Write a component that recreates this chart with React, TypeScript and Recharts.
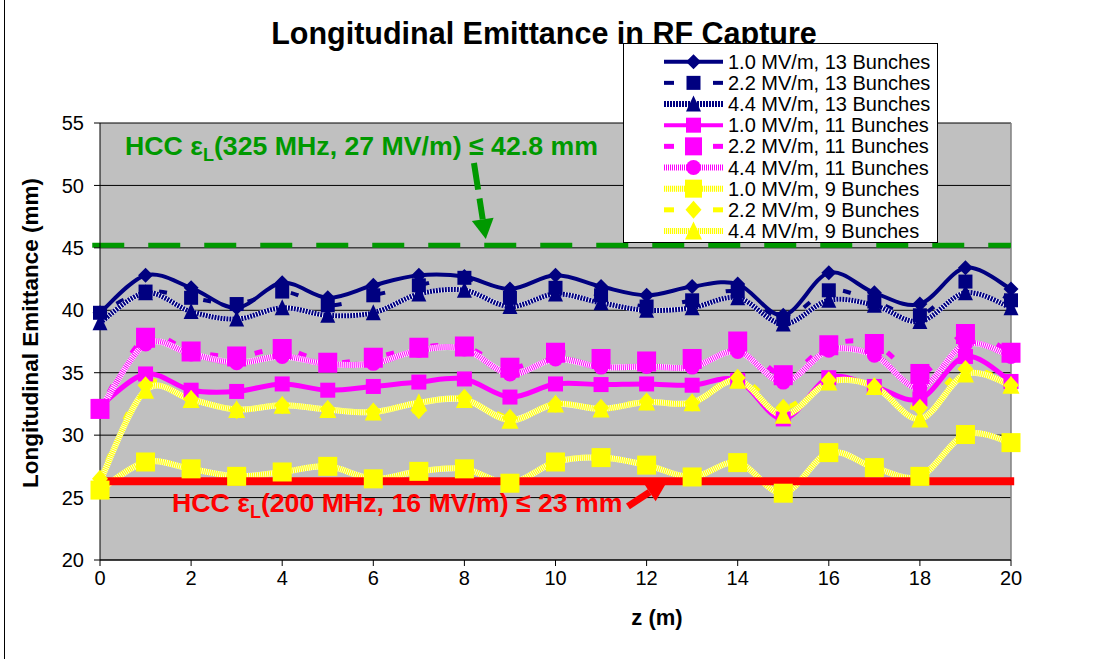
import React from 'react';
import { LineChart, Line, XAxis, YAxis, CartesianGrid, ReferenceLine, ReferenceDot } from 'recharts';

// ---------- data ----------
const zPositions = [0, 1, 2, 3, 4, 5, 6, 7, 8, 9, 10, 11, 12, 13, 14, 15, 16, 17, 18, 19, 20];
const xTicks = [0, 2, 4, 6, 8, 10, 12, 14, 16, 18, 20];
const yTicks = [20, 25, 30, 35, 40, 45, 50, 55];

const emit13_10 = [39.8, 42.8, 41.8, 40.2, 42.2, 41.0, 42.0, 42.8, 42.7, 41.7, 42.8, 41.9, 41.2, 41.9, 42.1, 39.6, 43.0, 41.4, 40.5, 43.4, 41.7];
const emit13_22 = [39.8, 41.5, 41.0, 40.5, 41.5, 40.4, 41.2, 42.0, 42.6, 41.0, 41.8, 41.2, 40.3, 40.8, 41.5, 39.3, 41.6, 40.7, 39.6, 42.3, 40.8];
const emit13_44 = [39.0, 41.4, 39.9, 39.3, 40.2, 39.6, 39.8, 41.3, 41.6, 40.3, 41.3, 40.6, 40.0, 40.2, 41.0, 38.9, 40.8, 40.4, 39.1, 41.4, 40.2];
const emit11_10 = [32.3, 34.9, 33.6, 33.5, 34.1, 33.6, 33.9, 34.25, 34.5, 33.05, 34.1, 34.05, 34.1, 34.0, 34.4, 31.3, 34.6, 33.9, 32.9, 36.3, 34.3];
const emit11_22 = [32.1, 37.8, 36.7, 36.3, 36.9, 35.8, 36.2, 37.0, 37.1, 35.4, 36.6, 36.1, 35.9, 36.1, 37.5, 34.8, 37.2, 37.3, 34.9, 38.1, 36.6];
const emit11_44 = [32.0, 37.3, 36.5, 35.8, 36.3, 35.7, 35.75, 36.8, 36.9, 34.9, 36.1, 35.45, 35.5, 35.45, 36.7, 34.25, 36.8, 36.4, 33.8, 37.3, 36.3];
const emit9_10 = [25.6, 27.85, 27.3, 26.7, 27.05, 27.5, 26.5, 27.1, 27.3, 26.15, 27.85, 28.2, 27.6, 26.65, 27.8, 25.35, 28.6, 27.4, 26.7, 30.05, 29.4];
const emit9_22 = [26.5, 34.0, 32.9, 32.0, 32.4, 32.1, 31.9, 32.0, 33.0, 31.4, 32.5, 32.2, 32.7, 32.6, 34.6, 32.2, 34.4, 33.9, 32.2, 35.3, 34.0];
const emit9_44 = [26.3, 33.6, 32.85, 32.05, 32.4, 32.05, 31.85, 32.6, 32.85, 31.2, 32.5, 32.1, 32.65, 32.6, 34.4, 31.6, 34.25, 33.9, 31.3, 34.9, 34.0];

const seriesNames = [
  '1.0 MV/m, 13 Bunches',
  '2.2 MV/m, 13 Bunches',
  '4.4 MV/m, 13 Bunches',
  '1.0 MV/m, 11 Bunches',
  '2.2 MV/m, 11 Bunches',
  '4.4 MV/m, 11 Bunches',
  '1.0 MV/m, 9 Bunches',
  '2.2 MV/m, 9 Bunches',
  '4.4 MV/m, 9 Bunches',
];

const limit325 = 45.2;
const limit200 = 26.3;
const title = 'Longitudinal Emittance in RF Capture';
const yLabel = 'Longitudinal Emittance (mm)';
const xLabel = 'z (m)';

const values = [emit13_10, emit13_22, emit13_44, emit11_10, emit11_22, emit11_44, emit9_10, emit9_22, emit9_44];
const chartData = zPositions.map((z, i) => {
  const row: any = { z };
  values.forEach((arr, k) => { row['s' + k] = arr[i]; });
  return row;
});

// ---------- styles ----------
const NAVY = '#000080';
const MAG = '#FF00FF';
const YEL = '#FFFF00';
const FONT = '"Liberation Sans", Arial, sans-serif';

type Style = { color: string; base: string; texDash: string; line: 'solid' | 'dash' | 'tex'; width: number; marker: 'diamond' | 'square' | 'triangle' | 'circle'; w: number; h: number };
const styles: Style[] = [
  { color: NAVY, base: '#ffffff', texDash: '2 1', line: 'solid', width: 4, marker: 'diamond', w: 15, h: 15 },
  { color: NAVY, base: '#ffffff', texDash: '2 1', line: 'dash', width: 4, marker: 'square', w: 14, h: 14 },
  { color: NAVY, base: '#ffffff', texDash: '2 1', line: 'tex', width: 5, marker: 'triangle', w: 15, h: 15 },
  { color: MAG, base: '#ffffff', texDash: '1 1', line: 'solid', width: 5, marker: 'square', w: 15, h: 15 },
  { color: MAG, base: '#ffffff', texDash: '1 1', line: 'dash', width: 5, marker: 'square', w: 19, h: 20 },
  { color: MAG, base: '#ffffff', texDash: '1 1', line: 'tex', width: 6, marker: 'circle', w: 15, h: 15 },
  { color: YEL, base: '#ffffd0', texDash: '1 1', line: 'tex', width: 6, marker: 'square', w: 19, h: 19 },
  { color: YEL, base: '#ffffd0', texDash: '1 1', line: 'dash', width: 5, marker: 'diamond', w: 16, h: 18 },
  { color: YEL, base: '#ffffd0', texDash: '1 1', line: 'tex', width: 6, marker: 'triangle', w: 17, h: 17 },
];

function marker(st: Style, cx: number, cy: number, key: any) {
  const { color, w, h } = st;
  if (cx == null || cy == null) return <g key={key} />;
  switch (st.marker) {
    case 'diamond':
      return <polygon key={key} points={`${cx},${cy - h / 2} ${cx + w / 2},${cy} ${cx},${cy + h / 2} ${cx - w / 2},${cy}`} fill={color} />;
    case 'square':
      return <rect key={key} x={cx - w / 2} y={cy - h / 2} width={w} height={h} fill={color} />;
    case 'triangle':
      return <polygon key={key} points={`${cx},${cy - h / 2 - 1} ${cx + w / 2},${cy + h / 2} ${cx - w / 2},${cy + h / 2}`} fill={color} />;
    default:
      return <circle key={key} cx={cx} cy={cy} r={w / 2} fill={color} />;
  }
}

// Excel-like smoothing (Catmull-Rom as Bezier)
function excelSmooth(context: any) {
  let pts: number[][] = [];
  return {
    areaStart() {},
    areaEnd() {},
    lineStart() { pts = []; },
    point(x: number, y: number) { pts.push([+x, +y]); },
    lineEnd() {
      const n = pts.length;
      if (!n) return;
      context.moveTo(pts[0][0], pts[0][1]);
      if (n === 1) return;
      for (let i = 0; i < n - 1; i++) {
        const p0 = pts[i === 0 ? 0 : i - 1];
        const p1 = pts[i];
        const p2 = pts[i + 1];
        const p3 = pts[i + 2 < n ? i + 2 : n - 1];
        context.bezierCurveTo(
          p1[0] + (p2[0] - p0[0]) / 6, p1[1] + (p2[1] - p0[1]) / 6,
          p2[0] - (p3[0] - p1[0]) / 6, p2[1] - (p3[1] - p1[1]) / 6,
          p2[0], p2[1]
        );
      }
    },
  };
}

const arrowShape = (color: string, width: number, dash: string | undefined, headLen: number, headW: number) => (p: any) => {
  const { x1, y1, x2, y2 } = p;
  const dx = x2 - x1;
  const dy = y2 - y1;
  const L = Math.hypot(dx, dy) || 1;
  const ux = dx / L;
  const uy = dy / L;
  const bx = x2 - ux * headLen;
  const by = y2 - uy * headLen;
  const px = -uy;
  const py = ux;
  return (
    <g>
      <line x1={x1} y1={y1} x2={bx} y2={by} stroke={color} strokeWidth={width} strokeDasharray={dash} />
      <polygon points={`${x2},${y2} ${bx + (px * headW) / 2},${by + (py * headW) / 2} ${bx - (px * headW) / 2},${by - (py * headW) / 2}`} fill={color} />
    </g>
  );
};

const annotation = (color: string, parts: [string, string]) => (p: any) => (
  <text x={p.cx} y={p.cy} fill={color} fontFamily={FONT} fontWeight="bold" fontSize={26.7}>
    <tspan>{parts[0]}</tspan>
    <tspan fontSize={18} dy={6}>L</tspan>
    <tspan dy={-6}>{parts[1]}</tspan>
  </text>
);

const YLabel = () => (
  <text x={38} y={333} transform="rotate(-90 38 333)" textAnchor="middle" fontFamily={FONT} fontWeight="bold" fontSize={22.5} fill="#000">
    {yLabel}
  </text>
);
const XLabel = () => (
  <text x={657} y={625} textAnchor="middle" fontFamily={FONT} fontWeight="bold" fontSize={22} fill="#000">
    {xLabel}
  </text>
);

function LegendBox() {
  const rowY = (i: number) => 17.7 + 21.16 * i;
  return (
    <div style={{ position: 'absolute', left: 623, top: 43, width: 313, height: 198, border: '1px solid #000', background: '#fff' }}>
      <svg width={313} height={198}>
        {styles.map((st, i) => {
          const y = rowY(i);
          let line: any;
          if (st.line === 'dash') {
            line = (
              <g>
                <line x1={40} y1={y} x2={50} y2={y} stroke={st.color} strokeWidth={st.width} />
                <line x1={89} y1={y} x2={99} y2={y} stroke={st.color} strokeWidth={st.width} />
              </g>
            );
          } else if (st.line === 'tex') {
            line = (
              <g>
                <line x1={40} y1={y} x2={99} y2={y} stroke={st.base} strokeWidth={6} />
                <line x1={40} y1={y} x2={99} y2={y} stroke={st.color} strokeWidth={6} strokeDasharray={st.texDash} />
              </g>
            );
          } else {
            line = <line x1={40} y1={y} x2={99} y2={y} stroke={st.color} strokeWidth={4} />;
          }
          return (
            <g key={i}>
              {line}
              {marker({ ...st, w: Math.min(st.w, 17), h: Math.min(st.h, 18) }, 69.5, y, 'm' + i)}
              <text x={104} y={y + 7} fontFamily={FONT} fontSize={20} fill="#000">{seriesNames[i]}</text>
            </g>
          );
        })}
      </svg>
    </div>
  );
}

export default function App() {
  const lines: any[] = [];
  styles.forEach((st, k) => {
    if (st.line === 'tex') {
      lines.push(
        <Line
          key={'b' + k}
          dataKey={'s' + k}
          type={excelSmooth as any}
          stroke={st.base}
          strokeWidth={st.width}
          dot={false}
          activeDot={false}
          legendType="none"
          isAnimationActive={false}
        />
      );
    }
    lines.push(
      <Line
        key={'s' + k}
        dataKey={'s' + k}
        name={seriesNames[k]}
        type={excelSmooth as any}
        stroke={st.color}
        strokeWidth={st.width}
        strokeDasharray={st.line === 'dash' ? '8 37' : st.line === 'tex' ? st.texDash : undefined}
        strokeDashoffset={st.line === 'dash' ? 26 : undefined}
        dot={(p: any) => marker(st, p.cx, p.cy, 'd' + k + '-' + p.index)}
        activeDot={false}
        isAnimationActive={false}
      />
    );
  });

  return (
    <div style={{ position: 'absolute', left: 0, top: 0, width: 1098, height: 659, background: '#fff', fontFamily: FONT }}>
      <div style={{ position: 'absolute', left: 4, top: 0, width: 1, height: 659, background: '#000' }} />
      <LineChart width={1098} height={659} data={chartData} margin={{ top: 123, right: 87, bottom: 59, left: 40 }}>
        <CartesianGrid vertical={false} stroke="#000" fill="#C0C0C0" fillOpacity={1} />
        <XAxis
          dataKey="z"
          type="number"
          domain={[0, 20]}
          ticks={xTicks}
          interval={0}
          tickSize={6}
          tickMargin={5}
          height={40}
          stroke="#000"
          tick={{ fill: '#000', fontSize: 20, fontFamily: FONT }}
          label={<XLabel />}
        />
        <YAxis
          type="number"
          domain={[20, 55]}
          ticks={yTicks}
          interval={0}
          tickSize={6}
          tickMargin={10}
          width={60}
          stroke="#000"
          tick={{ fill: '#000', fontSize: 20, fontFamily: FONT }}
          label={<YLabel />}
        />
        <ReferenceLine x={20} stroke="#808080" strokeWidth={1.5} />
        {lines}
        <ReferenceLine
          segment={[{ x: -0.17, y: limit325 }, { x: 20, y: limit325 }]}
          stroke="#009900"
          strokeWidth={5}
          strokeDasharray="32 24"
          ifOverflow="visible"
        />
        <ReferenceLine
          segment={[{ x: -0.09, y: limit200 }, { x: 20.07, y: limit200 }]}
          stroke="#FF0000"
          strokeWidth={8}
          ifOverflow="visible"
        />
        <ReferenceLine
          segment={[{ x: 8.21, y: 51.8 }, { x: 8.47, y: 45.7 }]}
          ifOverflow="visible"
          shape={arrowShape('#009900', 6, '27 9', 20, 22)}
        />
        <ReferenceLine
          segment={[{ x: 11.59, y: 24.3 }, { x: 12.47, y: 26.4 }]}
          ifOverflow="visible"
          shape={arrowShape('#FF0000', 7, undefined, 22, 22)}
        />
        <ReferenceDot x={0.55} y={52.44} r={0} ifOverflow="visible" shape={annotation('#009900', ['HCC ε', '(325 MHz, 27 MV/m) ≤ 42.8 mm'])} />
        <ReferenceDot x={1.58} y={23.83} r={0} ifOverflow="visible" shape={annotation('#FF0000', ['HCC ε', '(200 MHz, 16 MV/m) ≤ 23 mm'])} />
      </LineChart>
      <div style={{ position: 'absolute', left: 0, width: 1098, top: 13, textAlign: 'center', fontSize: 30.5, fontWeight: 'bold', color: '#000', fontFamily: FONT, lineHeight: '40px' }}>
        <span style={{ position: 'relative', left: -5 }}>{title}</span>
      </div>
      <LegendBox />
    </div>
  );
}
